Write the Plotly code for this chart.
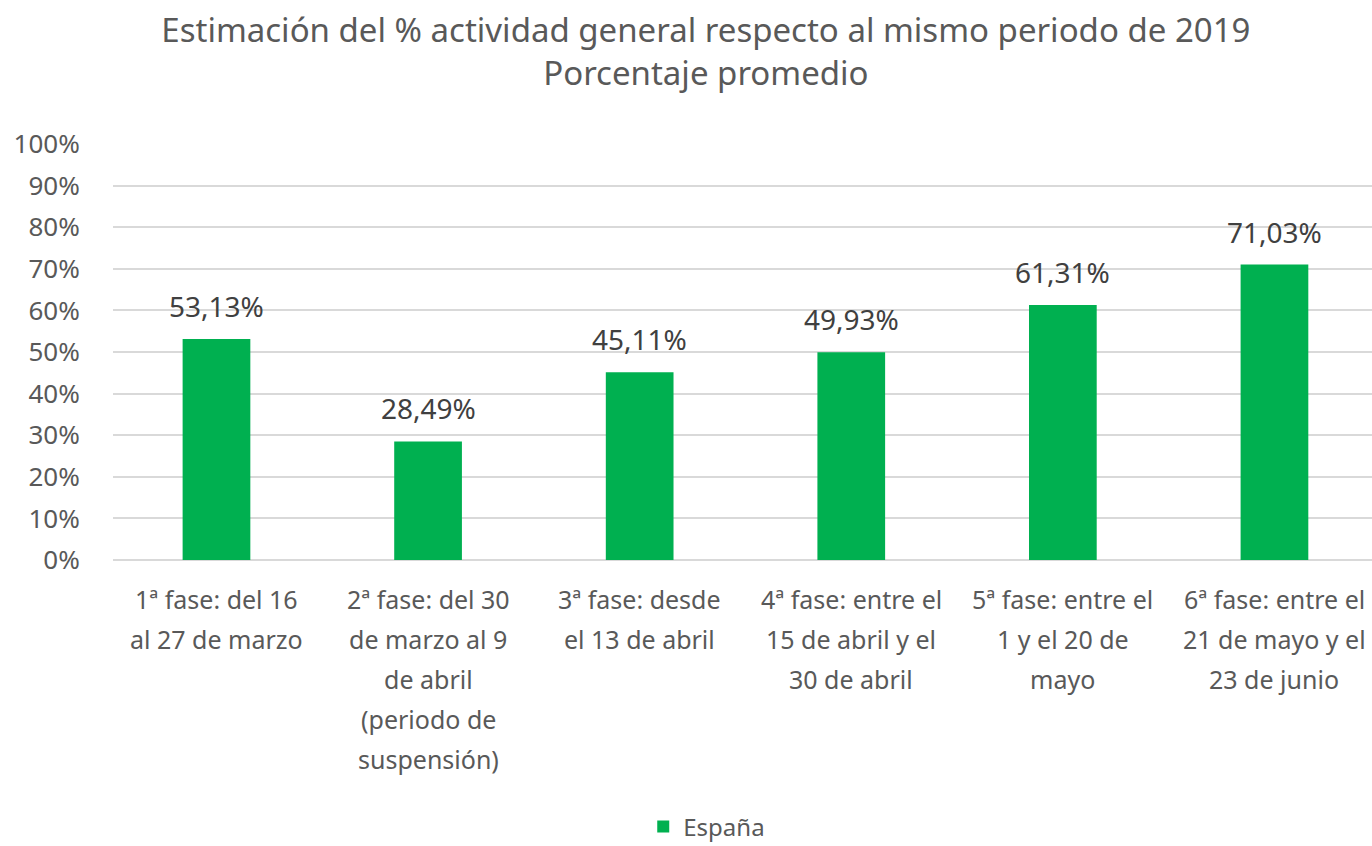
import plotly.graph_objects as go

categories = [
    "1ª fase: del 16<br>al 27 de marzo",
    "2ª fase: del 30<br>de marzo al 9<br>de abril<br>(periodo de<br>suspensión)",
    "3ª fase: desde<br>el 13 de abril",
    "4ª fase: entre el<br>15 de abril y el<br>30 de abril",
    "5ª fase: entre el<br>1 y el 20 de<br>mayo",
    "6ª fase: entre el<br>21 de mayo y el<br>23 de junio",
]
values = [53.13, 28.49, 45.11, 49.93, 61.31, 71.03]
series_name = "España"
y_ticks = [0, 10, 20, 30, 40, 50, 60, 70, 80, 90, 100]
y_tick_labels = [f"{t}%" for t in y_ticks]

GREEN = "#00B050"
TXT = "#595959"
FONT = "Noto Sans"

fig = go.Figure()
fig.add_trace(go.Bar(
    x=list(range(len(categories))), y=values, name=series_name,
    marker=dict(color=GREEN, line=dict(width=0)),
    showlegend=True,
))

annotations = []
# data labels
for i, v in enumerate(values):
    annotations.append(dict(
        x=i, y=v, xref="x", yref="y", text=f"{v:.2f}%".replace(".", ","),
        showarrow=False, yanchor="middle", yshift=33,
        font=dict(family=FONT, size=28, color="#404040"),
    ))
# category labels, one line each
for i, lab in enumerate(categories):
    for k, line in enumerate(lab.split("<br>")):
        annotations.append(dict(
            x=i, y=0, xref="x", yref="paper", text=line,
            showarrow=False, yanchor="middle", yshift=-39 - 40 * k,
            font=dict(family=FONT, size=25, color=TXT),
        ))

fig.update_layout(
    width=1372, height=846,
    margin=dict(l=113, r=0, t=144, b=286, autoexpand=False),
    paper_bgcolor="white", plot_bgcolor="white",
    title=dict(
        text="Estimación del % actividad general respecto al mismo periodo de 2019<br>Porcentaje promedio",
        x=0.5145, xanchor="center", y=0.9507, yanchor="top",
        font=dict(family=FONT, size=33, color=TXT),
    ),
    bargap=0.68,
    xaxis=dict(
        range=[-0.489, 5.461], showticklabels=False, showgrid=False,
        zeroline=False, showline=False, fixedrange=True, automargin=False,
    ),
    yaxis=dict(
        range=[0, 100], tickmode="array", tickvals=y_ticks, ticktext=y_tick_labels,
        showgrid=True, gridcolor="#D9D9D9", gridwidth=1.5,
        zeroline=True, zerolinecolor="#D9D9D9", zerolinewidth=1.5,
        showline=False, ticks="outside", ticklen=27, tickcolor="rgba(0,0,0,0)",
        tickfont=dict(family=FONT, size=26, color=TXT), automargin=False,
    ),
    legend=dict(
        orientation="h", x=0.4716, xanchor="center", y=-0.6418, yanchor="middle",
        font=dict(family=FONT, size=24, color=TXT),
        itemwidth=30,
    ),
    annotations=annotations,
)

fig.write_html(
    "out.html",
    config={"displayModeBar": False},
    post_script="document.body.style.margin='0px'; document.body.style.overflow='hidden';",
)
